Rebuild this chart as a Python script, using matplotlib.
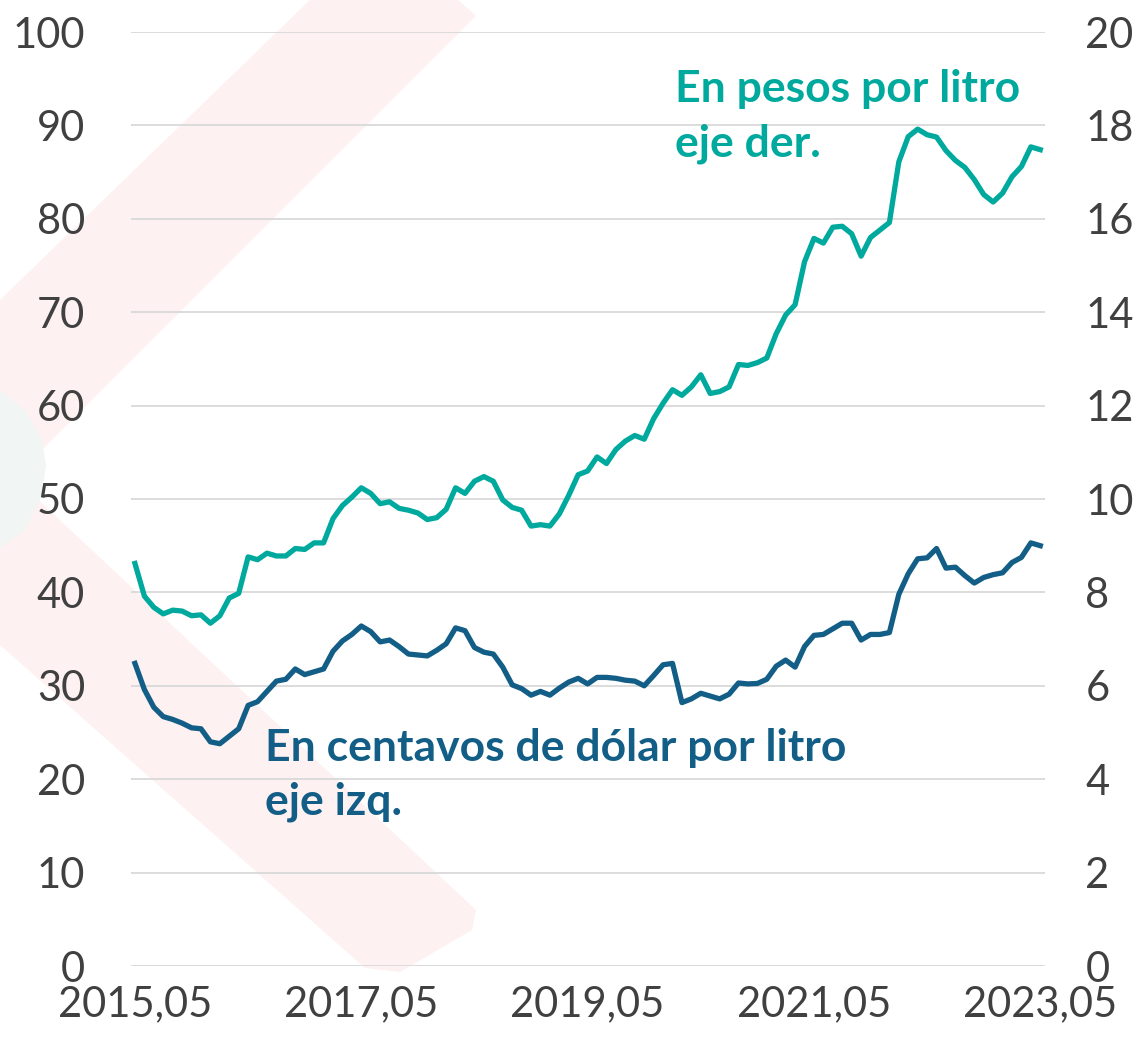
import numpy as np
import matplotlib.pyplot as plt
from matplotlib.patches import Polygon

plt.rcParams['font.family'] = ['Lato', 'DejaVu Sans']

# monthly series, 2015,05 .. 2023,05
usd_cents = [
    32.4, 29.6, 27.7, 26.7, 26.4, 26.0, 25.5, 25.4, 24.0, 23.8,
    24.6, 25.4, 27.9, 28.3, 29.4, 30.5, 30.7, 31.8, 31.2, 31.5,
    31.8, 33.7, 34.8, 35.5, 36.4, 35.8, 34.7, 34.9, 34.2, 33.4,
    33.3, 33.2, 33.8, 34.5, 36.2, 35.9, 34.1, 33.6, 33.4, 32.0,
    30.1, 29.7, 29.0, 29.4, 29.0, 29.75, 30.4, 30.8, 30.2, 30.9,
    30.9, 30.8, 30.6, 30.5, 30.0, 31.1, 32.25, 32.4, 28.2, 28.6,
    29.2, 28.9, 28.6, 29.1, 30.3, 30.2, 30.25, 30.7, 32.1, 32.75,
    32.0, 34.2, 35.4, 35.5, 36.1, 36.7, 36.7, 34.9, 35.5, 35.5,
    35.7, 39.8, 42.0, 43.6, 43.7, 44.7, 42.6, 42.7, 41.8, 41.0,
    41.6, 41.9, 42.1, 43.2, 43.75, 45.3, 45.0,
]
mxn_pesos = [
    8.62, 7.92, 7.68, 7.54, 7.62, 7.60, 7.50, 7.52, 7.34, 7.50,
    7.88, 7.98, 8.76, 8.70, 8.84, 8.78, 8.78, 8.94, 8.92, 9.06,
    9.06, 9.58, 9.86, 10.04, 10.24, 10.12, 9.90, 9.94, 9.80, 9.76,
    9.70, 9.56, 9.60, 9.78, 10.24, 10.12, 10.38, 10.48, 10.38, 9.98,
    9.82, 9.76, 9.42, 9.45, 9.42, 9.68, 10.08, 10.52, 10.60, 10.90,
    10.76, 11.06, 11.24, 11.36, 11.28, 11.72, 12.05, 12.34, 12.22, 12.40,
    12.66, 12.26, 12.30, 12.40, 12.88, 12.86, 12.92, 13.02, 13.54, 13.94,
    14.16, 15.08, 15.58, 15.48, 15.82, 15.84, 15.68, 15.20, 15.60, 15.76,
    15.92, 17.22, 17.76, 17.92, 17.80, 17.75, 17.46, 17.25, 17.10, 16.84,
    16.52, 16.36, 16.55, 16.90, 17.12, 17.54, 17.48,
]
tick_pos = [0, 24, 48, 72, 96]
tick_labels = ['2015,05', '2017,05', '2019,05', '2021,05', '2023,05']

teal = '#00A99D'
blue = '#135E86'
grey_txt = '#404040'

W, H = 1145, 1047
fig = plt.figure(figsize=(W / 100, H / 100), dpi=100)


def px(x, y):
    return (x / W, 1 - y / H)


# faded logo in the background
bands = [
    [(310, 0), (458, 0), (476, 16), (0, 492), (0, 300)],
    [(0, 464), (476, 910), (472, 930), (400, 972), (365, 968), (0, 645)],
]
for pts in bands:
    fig.patches.append(Polygon([px(*p) for p in pts], closed=True, transform=fig.transFigure,
                               facecolor='#FDF1F1', edgecolor='none', zorder=-2))
fig.patches.append(Polygon([px(*p) for p in [(0, 390), (25, 410), (42, 440), (46, 465), (42, 495),
                                               (25, 530), (0, 548)]],
                           closed=True, transform=fig.transFigure,
                           facecolor='#F1F5F4', edgecolor='none', zorder=-1))

ax = fig.add_axes([131 / W, 1 - 966 / H, (1045 - 131) / W, (966 - 32) / H])
ax.set_facecolor('none')
ax2 = ax.twinx()

x = np.arange(len(usd_cents))
ax.plot(x, usd_cents, color=blue, lw=3.8, solid_joinstyle='round', zorder=3)
ax2.plot(x, mxn_pesos, color=teal, lw=3.8, solid_joinstyle='round', zorder=3)

ax.set_xlim(-0.42, 96.5)
ax.set_ylim(0, 100)
ax2.set_ylim(0, 20)

ax.set_yticks(range(0, 101, 10))
ax2.set_yticks(range(0, 21, 2))
ax.set_xticks(tick_pos)
ax.set_xticklabels(tick_labels)
ax.yaxis.grid(True, color='#D9D9D9', lw=1.3)
ax.set_axisbelow(True)

ax.tick_params(axis='y', length=0, pad=33, labelsize=30, labelcolor=grey_txt)
ax2.tick_params(axis='y', length=0, pad=29, labelsize=30, labelcolor=grey_txt)
ax.tick_params(axis='x', length=0, pad=14, labelsize=30, labelcolor=grey_txt)

for a in (ax, ax2):
    for s in a.spines.values():
        s.set_visible(False)

# baseline anchor is the last line
ax.text(13.8, 16.2, 'En centavos de dólar por litro\neje izq.', color=blue,
        fontsize=32, fontweight='bold', va='baseline', ha='left', linespacing=1.42)
ax.text(57.3, 86.7, 'En pesos por litro\neje der.', color=teal,
        fontsize=32, fontweight='bold', va='baseline', ha='left', linespacing=1.42)

fig.savefig('out.png', dpi=100)
